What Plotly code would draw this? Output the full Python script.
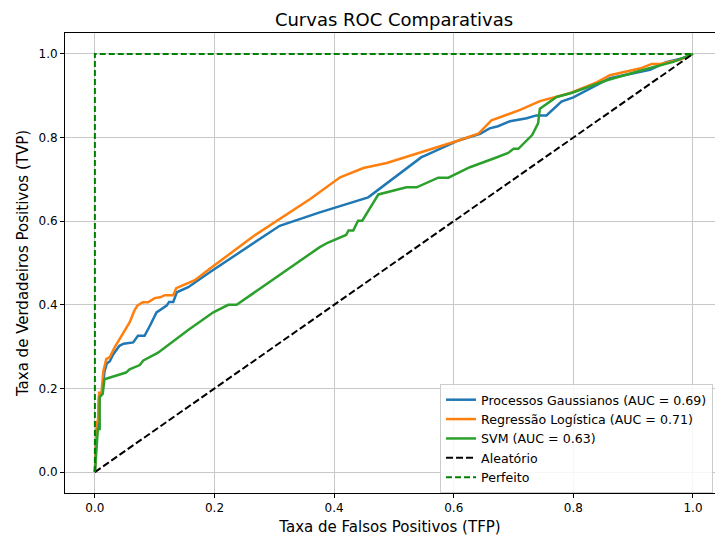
import plotly.graph_objects as go

# ---- data ----
fpr_gp = [0, 0.003, 0.005, 0.007, 0.012, 0.016, 0.020, 0.025, 0.030, 0.041, 0.048, 0.058, 0.064, 0.072, 0.083, 0.092,
          0.103, 0.120, 0.124, 0.131, 0.137, 0.156, 0.192, 0.309, 0.376, 0.457, 0.546, 0.552, 0.608, 0.644,
          0.660, 0.674, 0.694, 0.722, 0.738, 0.755, 0.780, 0.800, 0.822, 0.861, 0.928, 0.955, 0.983, 1.0]
tpr_gp = [0, 0.10, 0.10, 0.18, 0.19, 0.24, 0.26, 0.265, 0.28, 0.302, 0.307, 0.31, 0.31, 0.326, 0.326, 0.35,
          0.382, 0.398, 0.407, 0.407, 0.430, 0.442, 0.478, 0.589, 0.621, 0.657, 0.753, 0.757, 0.793, 0.809,
          0.822, 0.827, 0.839, 0.846, 0.853, 0.853, 0.886, 0.896, 0.912, 0.942, 0.962, 0.980, 0.990, 1.0]

fpr_lr = [0, 0.003, 0.005, 0.007, 0.011, 0.014, 0.019, 0.025, 0.033, 0.044, 0.058, 0.066, 0.071, 0.080, 0.089,
          0.100, 0.109, 0.117, 0.131, 0.136, 0.156, 0.167, 0.192, 0.259, 0.265, 0.360, 0.410, 0.449, 0.488,
          0.608, 0.641, 0.663, 0.711, 0.744, 0.766, 0.794, 0.839, 0.861, 0.911, 0.931, 0.945, 0.978, 1.0]
tpr_lr = [0, 0.12, 0.12, 0.19, 0.19, 0.24, 0.27, 0.275, 0.298, 0.326, 0.358, 0.386, 0.398, 0.406, 0.406,
          0.416, 0.418, 0.423, 0.423, 0.440, 0.452, 0.459, 0.486, 0.559, 0.564, 0.653, 0.705, 0.727, 0.739,
          0.793, 0.809, 0.841, 0.866, 0.887, 0.896, 0.906, 0.932, 0.949, 0.965, 0.976, 0.976, 0.986, 1.0]

fpr_svm = [0, 0.005, 0.008, 0.008, 0.013, 0.016, 0.052, 0.058, 0.075, 0.081, 0.105, 0.156, 0.198, 0.223, 0.237,
           0.376, 0.390, 0.420, 0.424, 0.432, 0.440, 0.447, 0.474, 0.521, 0.538, 0.574, 0.591, 0.627, 0.669,
           0.691, 0.700, 0.708, 0.731, 0.741, 0.744, 0.772, 0.798, 0.856, 0.922, 0.967, 1.0]
tpr_svm = [0, 0.103, 0.103, 0.179, 0.187, 0.222, 0.238, 0.246, 0.256, 0.267, 0.285, 0.340, 0.382, 0.400, 0.400,
           0.538, 0.549, 0.567, 0.578, 0.578, 0.601, 0.601, 0.664, 0.681, 0.681, 0.704, 0.704, 0.729, 0.751,
           0.763, 0.773, 0.773, 0.806, 0.834, 0.869, 0.897, 0.907, 0.937, 0.964, 0.981, 1.0]

rand_x = [0, 1]
rand_y = [0, 1]
perf_x = [0, 0, 1]
perf_y = [0, 1, 1]

auc_gp, auc_lr, auc_svm = 0.69, 0.71, 0.63
tick_vals = [0.0, 0.2, 0.4, 0.6, 0.8, 1.0]
tick_text = ["0.0", "0.2", "0.4", "0.6", "0.8", "1.0"]

FONT = "DejaVu Sans"

fig = go.Figure()
fig.add_trace(go.Scatter(x=fpr_gp, y=tpr_gp, mode="lines", line=dict(color="#1f77b4", width=2.5),
                         name=f"Processos Gaussianos (AUC = {auc_gp:.2f})"))
fig.add_trace(go.Scatter(x=fpr_lr, y=tpr_lr, mode="lines", line=dict(color="#ff7f0e", width=2.5),
                         name=f"Regressão Logística (AUC = {auc_lr:.2f})"))
fig.add_trace(go.Scatter(x=fpr_svm, y=tpr_svm, mode="lines", line=dict(color="#2ca02c", width=2.5),
                         name=f"SVM (AUC = {auc_svm:.2f})"))
fig.add_trace(go.Scatter(x=rand_x, y=rand_y, mode="lines", line=dict(color="black", width=2, dash="7px,3px"),
                         name="Aleatório"))
fig.add_trace(go.Scatter(x=perf_x, y=perf_y, mode="lines", line=dict(color="#008000", width=2, dash="6px,3px"),
                         name="Perfeito"))

axis_common = dict(
    showgrid=True, gridcolor="#c8c8c8", gridwidth=1,
    showline=True, linecolor="black", linewidth=1,
    ticks="outside", ticklen=4, tickcolor="black", automargin=False,
    zeroline=False, tickfont=dict(family=FONT, size=12, color="black"),
    tickvals=tick_vals, ticktext=tick_text,
)

fig.update_layout(
    width=715, height=536,
    margin=dict(l=65, r=0, t=33, b=43),
    paper_bgcolor="white", plot_bgcolor="white",
    font=dict(family=FONT, color="black"),
    title=dict(text="Curvas ROC Comparativas", x=(394 - 65) / 650, xref="paper", xanchor="center",
               y=1 - 20 / 536, yanchor="middle", font=dict(family=FONT, size=18, color="black")),
    xaxis=dict(range=[-0.05, 1.0368], mirror=True,
               title=dict(text="Taxa de Falsos Positivos (TFP)", standoff=8,
                          font=dict(family=FONT, size=15)), **axis_common),
    yaxis=dict(range=[-0.05, 1.05], mirror=False,
               title=dict(text="Taxa de Verdadeiros Positivos (TVP)", standoff=6,
                          font=dict(family=FONT, size=15)), **axis_common),
    legend=dict(x=0.997, y=(493 - 384) / 460, xanchor="right", yanchor="top",
                bgcolor="rgba(255,255,255,0.85)", bordercolor="#cccccc", borderwidth=1,
                font=dict(family=FONT, size=12.6), tracegroupgap=0, itemwidth=30),
    showlegend=True,
)

fig.write_html("out.html", config={"displayModeBar": False},
               post_script="document.body.style.margin='0';document.body.style.overflow='hidden';")
